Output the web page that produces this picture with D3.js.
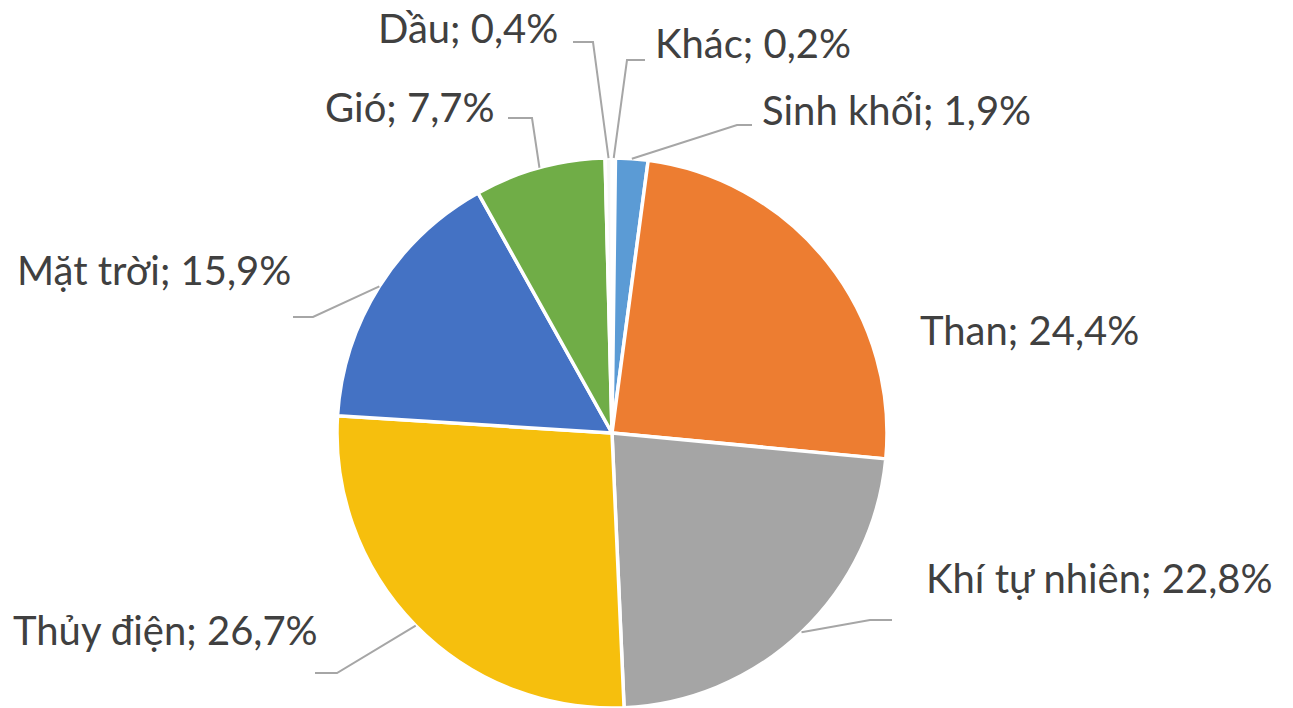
<!DOCTYPE html>
<html>
<head>
<meta charset="utf-8">
<script src="https://cdn.jsdelivr.net/npm/d3@7"></script>
<style>
  html, body { margin: 0; padding: 0; background: #fff; }
  svg { display: block; }
</style>
</head>
<body>
<div id="chart"></div>
<script>
// slice order clockwise from 12 o'clock
const categories = ['Khác', 'Sinh khối', 'Than', 'Khí tự nhiên', 'Thủy điện', 'Mặt trời', 'Gió', 'Dầu'];
const values = [0.2, 1.9, 24.4, 22.8, 26.7, 15.9, 7.7, 0.4];
const labelText = ['Khác; 0,2%', 'Sinh khối; 1,9%', 'Than; 24,4%', 'Khí tự nhiên; 22,8%',
                   'Thủy điện; 26,7%', 'Mặt trời; 15,9%', 'Gió; 7,7%', 'Dầu; 0,4%'];
const colors = ['#f7f7f7', '#5b9bd5', '#ed7d31', '#a5a5a5', '#f6bf0d', '#4472c4', '#70ad47', '#f7f7f7'];

// label layout: text position + leader elbow (null = no leader)
const labelLayout = {
    'Khác':         { x: 655, y: 58,  leader: [[645, 60], [627, 60]] },
    'Sinh khối':    { x: 762, y: 125, leader: [[752, 125], [737, 125]] },
    'Than':         { x: 920, y: 345, leader: null },
    'Khí tự nhiên': { x: 926, y: 593, leader: [[892, 620], [870, 620]] },
    'Thủy điện':    { x: 13,  y: 645, leader: [[315, 673], [337, 673]] },
    'Mặt trời':     { x: 17,  y: 285, leader: [[293, 317], [313, 317]] },
    'Gió':          { x: 325, y: 122, leader: [[508, 118], [532, 118]] },
    'Dầu':          { x: 378, y: 43,  leader: [[573, 42], [593, 42]] }
};

const width = 1293, height = 708;
const cx = 612, cy = 433, radius = 275;

const svg = d3.select('#chart')
    .append('svg')
    .attr('width', width)
    .attr('height', height);

const data = categories.map((c, i) => ({ name: c, value: values[i], label: labelText[i], color: colors[i] }));

const pie = d3.pie()
    .sort(null)
    .value(d => d.value);

const arc = d3.arc()
    .innerRadius(0)
    .outerRadius(radius);

const arcs = pie(data);

const g = svg.append('g')
    .attr('transform', `translate(${cx},${cy})`);

g.selectAll('path')
    .data(arcs)
    .enter()
    .append('path')
    .attr('d', arc)
    .attr('fill', d => d.data.color)
    .attr('stroke', '#fff')
    .attr('stroke-width', 3.5)
    .attr('stroke-linejoin', 'round');

// leader lines
const line = d3.line();
svg.append('g')
    .selectAll('path')
    .data(arcs.filter(d => labelLayout[d.data.name].leader))
    .enter()
    .append('path')
    .attr('d', d => {
        const mid = (d.startAngle + d.endAngle) / 2;
        const end = [cx + Math.sin(mid) * radius, cy - Math.cos(mid) * radius];
        return line([...labelLayout[d.data.name].leader, end]);
    })
    .attr('fill', 'none')
    .attr('stroke', '#a6a6a6')
    .attr('stroke-width', 2);

svg.append('g')
    .selectAll('text')
    .data(arcs)
    .enter()
    .append('text')
    .attr('x', d => labelLayout[d.data.name].x)
    .attr('y', d => labelLayout[d.data.name].y)
    .attr('font-family', 'Lato, "Noto Sans", sans-serif')
    .attr('font-size', 40)
    .attr('fill', '#404040')
    .text(d => d.data.label);
</script>
</body>
</html>
